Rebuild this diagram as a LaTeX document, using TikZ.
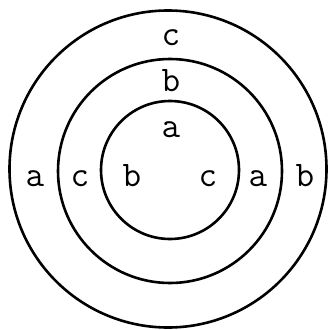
\documentclass[tikz,border=0pt]{standalone}
\usepackage{fontspec}
\begin{document}
\begin{tikzpicture}[x=1pt,y=-1pt,
  ring/.style={draw=black,line width=2.6pt},
  lbl/.style={font=\ttfamily\fontsize{36}{36}\selectfont,inner sep=0pt,anchor=base}]
\useasboundingbox (0,0) rectangle (328,330);
\node[ring,circle,minimum size=317pt,inner sep=0pt] (outer) at (168,169) {};
\node[ring,circle,minimum size=224pt,inner sep=0pt] (middle) at (170,171) {};
\node[ring,circle,minimum size=138pt,inner sep=0pt] (inner) at (170,170) {};
\node[lbl] (t1) at (171,45) {c};
\node[lbl] (t2) at (171,91) {b};
\node[lbl] (t3) at (171,137) {a};
\node[lbl] (l1) at (35,186) {a};
\node[lbl] (l2) at (80,186) {c};
\node[lbl] (l3) at (132,186) {b};
\node[lbl] (r1) at (208,186) {c};
\node[lbl] (r2) at (258,186) {a};
\node[lbl] (r3) at (305,186) {b};
\end{tikzpicture}
\end{document}
